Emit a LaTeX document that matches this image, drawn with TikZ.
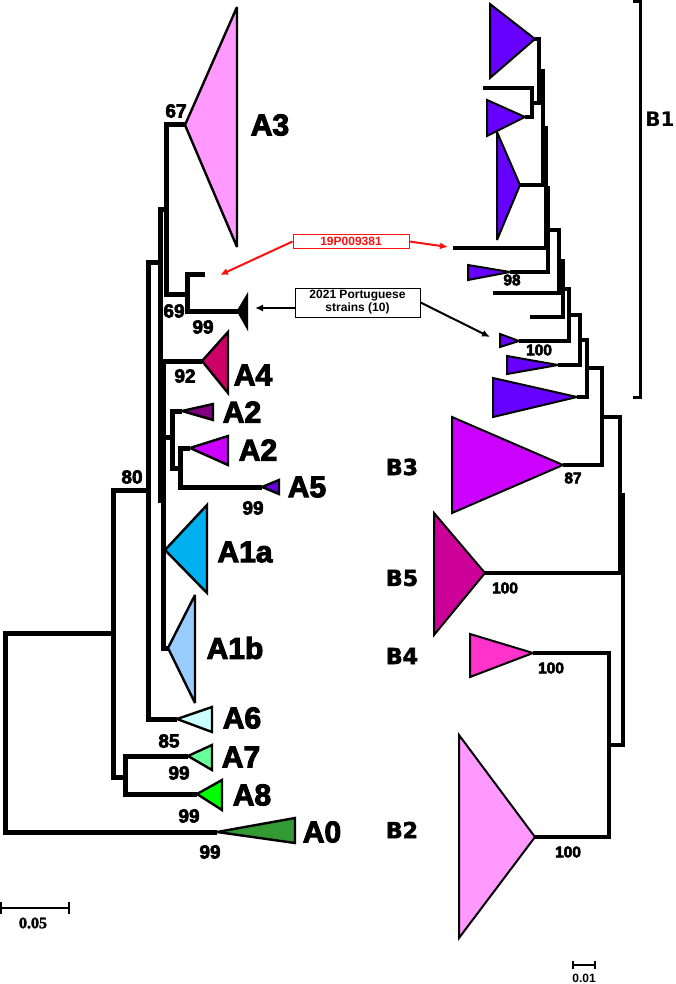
\documentclass[tikz,border=0pt]{standalone}
\usepackage{fontspec}
\setmainfont{Liberation Sans}
\newfontfamily\dvs{DejaVu Sans}
\newfontfamily\dvsheavy{DejaVu Sans}[BoldFeatures={FakeBold=2.5}]
\newfontfamily\heavy{Liberation Sans}[BoldFeatures={FakeBold=3.5}]
\newfontfamily\lserif{Liberation Serif}[BoldFeatures={FakeBold=2}]
\usetikzlibrary{arrows.meta}
\definecolor{cA3}{HTML}{FF99FF}
\definecolor{cA4}{HTML}{CC0066}
\definecolor{cA2a}{HTML}{800080}
\definecolor{cA2b}{HTML}{CC00FF}
\definecolor{cA5}{HTML}{6600DD}
\definecolor{cA1a}{HTML}{00B0F0}
\definecolor{cA1b}{HTML}{99CCFF}
\definecolor{cA6}{HTML}{CCFFFF}
\definecolor{cA7}{HTML}{66FF99}
\definecolor{cA8}{HTML}{00FF00}
\definecolor{cA0}{HTML}{339933}
\definecolor{cB1}{HTML}{6600FF}
\definecolor{cB3}{HTML}{CC00FF}
\definecolor{cB5}{HTML}{CC0099}
\definecolor{cB4}{HTML}{FF33CC}
\definecolor{cB2}{HTML}{FF99FF}
\definecolor{cRed}{HTML}{FF1010}
\begin{document}
\begin{tikzpicture}[x=1pt,y=-1pt,
  brL/.style={line width=5pt, line join=miter},
  brR/.style={line width=4pt, line join=miter},
  tri/.style={draw=black, line width=2.4pt, line join=miter, miter limit=4},
  triR/.style={draw=black, line width=2pt, line join=miter, miter limit=4},
  boot/.style={font=\heavy\fontsize{19}{19}\selectfont\bfseries, inner sep=0pt},
  bootR/.style={font=\heavy\fontsize{15.5}{16}\selectfont\bfseries, inner sep=0pt},
  cladeA/.style={font=\heavy\fontsize{30}{30}\selectfont\bfseries, inner sep=0pt},
  cladeB/.style={font=\dvsheavy\fontsize{22}{22}\selectfont\bfseries, inner sep=0pt},
  arr/.style={line width=2pt, -{Latex[length=8pt,width=7pt]}},
  sbar/.style={line width=1.5pt}
]
\useasboundingbox (0,0) rectangle (675,984);

% ---------------- left tree ----------------
\coordinate (tA3) at (185,125);
\coordinate (t19) at (205,274);
\coordinate (tPT) at (238,311);
\coordinate (tA4) at (202,361);
\coordinate (tA2a) at (182,411);
\coordinate (tA2b) at (190,448);
\coordinate (tA5) at (262,487);
\coordinate (tA1a) at (165,550);
\coordinate (tA1b) at (168,648);
\coordinate (tA6) at (177,719);
\coordinate (tA7) at (188,756);
\coordinate (tA8) at (197,794);
\coordinate (tA0) at (217,832);

\coordinate (nPT) at (187,294);
\coordinate (nA3) at (166,210);
\coordinate (nUp) at (160,262);
\coordinate (nMid) at (163,500);
\coordinate (nA2) at (172,437);
\coordinate (nA5) at (180,468);
\coordinate (nX) at (148,490);
\coordinate (n80) at (113,633);
\coordinate (nA78) at (125,777);
\coordinate (nRoot) at (5,732);

\draw[brL] (t19) -| (nPT) |- (tPT);
\draw[brL] (tA3) -| (nA3) |- (nPT);
\draw[brL] (nA3) -| (nUp) |- (nMid);
\draw[brL] (tA4) -| (nMid) |- (tA1b);
\draw[brL] (nMid) |- (tA1a);
\draw[brL] (nMid) |- (nA2);
\draw[brL] (tA2a) -| (nA2) |- (nA5);
\draw[brL] (tA2b) -| (nA5) |- (tA5);
\draw[brL] (nUp) -| (nX) |- (tA6);
\draw[brL] (nX) -| (n80) |- (nA78);
\draw[brL] (tA7) -| (nA78) |- (tA8);
\draw[brL] (n80) -| (nRoot) |- (tA0);

\draw[tri, fill=cA3] (tA3) -- (237,7) -- (237,247) -- cycle;
\draw[tri, fill=black] (tPT) -- (247,296) -- (247,327) -- cycle;
\draw[tri, fill=cA4] (tA4) -- (228,332) -- (228,393) -- cycle;
\draw[tri, fill=cA2a] (tA2a) -- (213,404) -- (213,420) -- cycle;
\draw[tri, fill=cA2b] (tA2b) -- (228,436) -- (228,465) -- cycle;
\draw[tri, fill=cA5] (tA5) -- (279,480) -- (279,494) -- cycle;
\draw[tri, fill=cA1a] (tA1a) -- (207,505) -- (207,593) -- cycle;
\draw[tri, fill=cA1b] (tA1b) -- (195,595) -- (195,703) -- cycle;
\draw[tri, fill=cA6] (tA6) -- (212,707) -- (212,732) -- cycle;
\draw[tri, fill=cA7] (tA7) -- (212,745) -- (212,770) -- cycle;
\draw[tri, fill=cA8] (tA8) -- (222,780) -- (222,810) -- cycle;
\draw[tri, fill=cA0] (tA0) -- (295,818) -- (295,843) -- cycle;

\node[cladeA] (lA3) at (270,125) {A3};
\node[cladeA] (lA4) at (253,375) {A4};
\node[cladeA] (lA2a) at (242,412) {A2};
\node[cladeA] (lA2b) at (258,450) {A2};
\node[cladeA] (lA5) at (307,487) {A5};
\node[cladeA] (lA1a) at (245,552) {A1a};
\node[cladeA] (lA1b) at (235,648) {A1b};
\node[cladeA] (lA6) at (242,718) {A6};
\node[cladeA] (lA7) at (241,757) {A7};
\node[cladeA] (lA8) at (252,795) {A8};
\node[cladeA] (lA0) at (322,832) {A0};

\node[boot] (b67) at (176,111) {67};
\node[boot] (b69) at (174,311) {69};
\node[boot] (b99a) at (203,327) {99};
\node[boot] (b92) at (185,376) {92};
\node[boot] (b99b) at (253,508) {99};
\node[boot] (b80) at (132,477) {80};
\node[boot] (b85) at (169,741) {85};
\node[boot] (b99c) at (179,773) {99};
\node[boot] (b99d) at (189,816) {99};
\node[boot] (b99e) at (210,852) {99};

% ---------------- right tree ----------------
\coordinate (tT1) at (535,39);
\coordinate (tL1) at (483,88);
\coordinate (tT2) at (525,117);
\coordinate (tT3) at (520,185);
\coordinate (tL19) at (453,248);
\coordinate (tT4) at (510,272);
\coordinate (tL2) at (493,293);
\coordinate (tL3) at (530,317);
\coordinate (tT5) at (519,341);
\coordinate (tT6) at (558,365);
\coordinate (tT7) at (577,397);
\coordinate (tB3) at (563,465);
\coordinate (tB5) at (485,573);
\coordinate (tB4) at (533,653);
\coordinate (tB2) at (535,837);

\coordinate (M0) at (532,103);
\coordinate (M1) at (539,71);
\coordinate (M2) at (543,128);
\coordinate (M3) at (546,188);
\coordinate (M4) at (548,230);
\coordinate (N1) at (559,261);
\coordinate (N2) at (563,289);
\coordinate (N3) at (569,315);
\coordinate (N4) at (580,340);
\coordinate (N5) at (587,368);
\coordinate (N6) at (602,417);
\coordinate (N7) at (620,495);
\coordinate (N8) at (609,745);
\coordinate (NR) at (623,620);

\draw[brR] (tL1) -| (M0) |- (tT2);
\draw[brR] (tT1) -| (M1) |- (M0);
\draw[brR] (M1) -| (M2) |- (tT3);
\draw[brR] (M2) -| (M3) |- (tL19);
\draw[brR] (M3) -| (M4) |- (tT4);
\draw[brR] (M4) -| (N1) |- (tL2);
\draw[brR] (N1) -| (N2) |- (tL3);
\draw[brR] (N2) -| (N3) |- (tT5);
\draw[brR] (N3) -| (N4) |- (tT6);
\draw[brR] (N4) -| (N5) |- (tT7);
\draw[brR] (N5) -| (N6) |- (tB3);
\draw[brR] (N6) -| (N7) |- (tB5);
\draw[brR] (tB4) -| (N8) |- (tB2);
\draw[brR] (N7) -| (NR) |- (N8);

\draw[triR, fill=cB1] (tT1) -- (490,4) -- (490,78) -- cycle;
\draw[triR, fill=cB1] (tT2) -- (487,100) -- (487,136) -- cycle;
\draw[triR, fill=cB1] (tT3) -- (497,132) -- (497,240) -- cycle;
\draw[triR, fill=cB1] (tT4) -- (468,265) -- (468,280) -- cycle;
\draw[triR, fill=cB1] (tT5) -- (500,334) -- (500,347) -- cycle;
\draw[triR, fill=cB1] (tT6) -- (507,356) -- (507,374) -- cycle;
\draw[triR, fill=cB1] (tT7) -- (493,378) -- (493,417) -- cycle;
\draw[triR, fill=cB3] (tB3) -- (452,417) -- (452,513) -- cycle;
\draw[triR, fill=cB5] (tB5) -- (434,513) -- (434,635) -- cycle;
\draw[triR, fill=cB4] (tB4) -- (470,634) -- (470,677) -- cycle;
\draw[triR, fill=cB2] (tB2) -- (459,735) -- (459,938) -- cycle;

\node[bootR] (b98) at (512,280) {98};
\node[bootR] (b100a) at (539,350) {100};
\node[bootR] (b87) at (573,478) {87};
\node[bootR] (b100b) at (505,588) {100};
\node[bootR] (b100c) at (551,668) {100};
\node[bootR] (b100d) at (568,852) {100};

\node[cladeB] (lB3) at (402,467) {B3};
\node[cladeB] (lB5) at (402,578) {B5};
\node[cladeB] (lB4) at (402,656) {B4};
\node[cladeB] (lB2) at (402,830) {B2};

% B1 bracket
\coordinate (bT) at (633,2);
\coordinate (bB) at (633,397);
\draw[line width=3pt, line join=miter] (bT) -- ++(7,0) |- (bB);
\node[font=\dvs\fontsize{20}{20}\selectfont\bfseries, inner sep=0pt] (lB1) at (660,119) {B1};

% ---------------- annotation boxes ----------------
\node[draw=cRed, line width=1pt, text=cRed, inner sep=0pt,
      minimum width=116pt, minimum height=13pt,
      font=\fontsize{12}{12}\selectfont\bfseries] (r19) at (351,241.5) {19P009381};
\coordinate (a19L) at (220,275);
\coordinate (a19R) at (448,247);
\draw[arr, cRed] (r19.west) -- (a19L);
\draw[arr, cRed] (r19.east) -- (a19R);

\node[draw, line width=1pt, align=center, inner sep=0pt,
      minimum width=125pt, minimum height=29pt,
      font=\fontsize{12}{13}\selectfont\bfseries] (pt) at (357.5,302.5) {2021 Portuguese\\strains (10)};
\coordinate (aPTL) at (255,308);
\coordinate (aPTR) at (490,337);
\draw[arr] (pt.west |- aPTL) -- (aPTL);
\draw[arr] (pt.east) -- (aPTR);

% ---------------- scale bars ----------------
\coordinate (s1L) at (1,908);
\coordinate (s1R) at (69,908);
\draw[sbar] (s1L) -- (s1R);
\draw[sbar] ([yshift=6pt]s1L) -- ([yshift=-6pt]s1L);
\draw[sbar] ([yshift=6pt]s1R) -- ([yshift=-6pt]s1R);
\node[font=\lserif\fontsize{16}{16}\selectfont\bfseries, inner sep=0pt] (sl1) at (33,923) {0.05};

\coordinate (s2L) at (573,965);
\coordinate (s2R) at (595,965);
\draw[sbar] (s2L) -- (s2R);
\draw[sbar] ([yshift=4pt]s2L) -- ([yshift=-4pt]s2L);
\draw[sbar] ([yshift=4pt]s2R) -- ([yshift=-4pt]s2R);
\node[font=\fontsize{12}{12}\selectfont\bfseries, inner sep=0pt] (sl2) at (584,978) {0.01};
\end{tikzpicture}
\end{document}
